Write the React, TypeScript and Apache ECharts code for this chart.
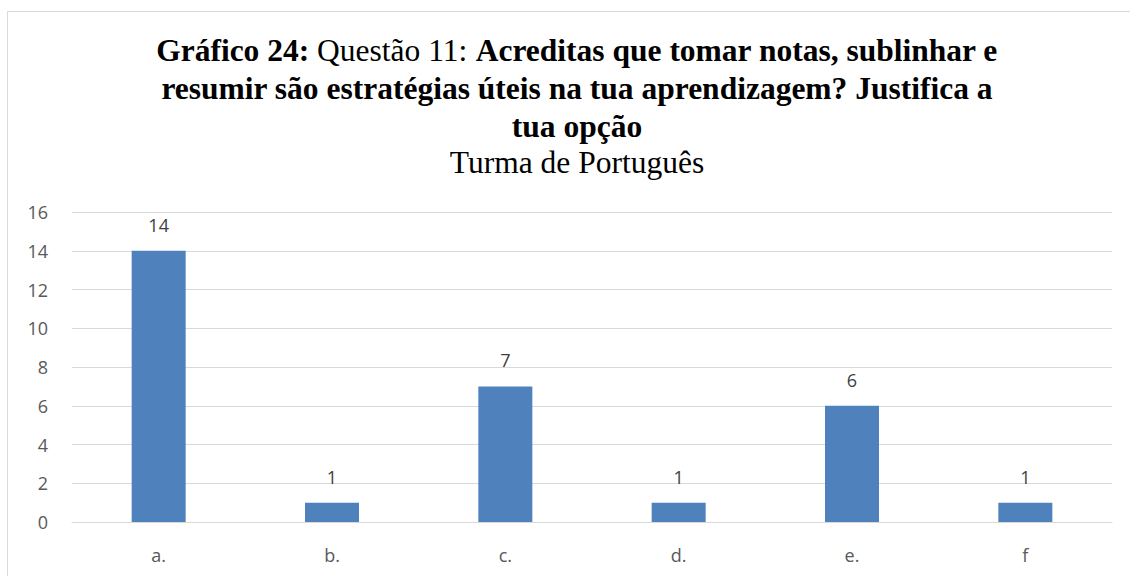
import React, { useEffect, useRef } from "react";
import * as echarts from "echarts";

const categories = ["a.", "b.", "c.", "d.", "e.", "f"];
const values = [14, 1, 7, 1, 6, 1];
const yTicks = { min: 0, max: 16, interval: 2 };
const titleLines = [
  "{b|Gráfico 24:} {n|Questão 11:} {b|Acreditas que tomar notas, sublinhar e}",
  "{b|resumir são estratégias úteis na tua aprendizagem? Justifica a}",
  "{b|tua opção}",
];
const subtitle = "Turma de Português";

export default function App() {
  const ref = useRef<HTMLDivElement>(null);
  useEffect(() => {
    if (!ref.current) return;
    const chart = echarts.init(ref.current, undefined, { renderer: "svg" });
    const serif = "Liberation Serif";
    const sans = "Open Sans";
    const fs = 31.5;
    const lh = 38;
    chart.setOption({
      animation: false,
      backgroundColor: "#ffffff",
      graphic: [
        {
          type: "rect",
          shape: { x: 7.5, y: 11.5, width: 1200, height: 700 },
          style: { fill: "none", stroke: "#d9d9d9", lineWidth: 1 },
          silent: true,
        },
      ],
      title: [
        {
          text: titleLines.join("\n"),
          left: 572,
          top: 26,
          textAlign: "center",
          textStyle: {
            fontFamily: serif,
            fontSize: fs,
            color: "#000",
            lineHeight: lh,
            rich: {
              b: { fontFamily: serif, fontSize: fs, fontWeight: "bold", color: "#000", lineHeight: lh },
              n: { fontFamily: serif, fontSize: fs, fontWeight: "normal", color: "#000", lineHeight: lh },
            },
          },
        },
        {
          text: subtitle,
          left: 572,
          top: 141,
          textAlign: "center",
          textStyle: {
            fontFamily: serif,
            fontSize: fs,
            fontWeight: "normal",
            color: "#000",
            lineHeight: 32,
          },
        },
      ],
      grid: { left: 72, right: 18, top: 212, bottom: 54, containLabel: false },
      xAxis: {
        type: "category",
        data: categories,
        axisLine: { show: true, lineStyle: { color: "#d9d9d9", width: 1 } },
        axisTick: { show: false },
        axisLabel: { color: "#595959", fontFamily: sans, fontSize: 18, margin: 24 },
      },
      yAxis: {
        type: "value",
        min: yTicks.min,
        max: yTicks.max,
        interval: yTicks.interval,
        axisLine: { show: false },
        axisTick: { show: false },
        splitLine: { lineStyle: { color: "#d9d9d9", width: 1 } },
        axisLabel: { color: "#595959", fontFamily: sans, fontSize: 18, margin: 24 },
      },
      series: [
        {
          type: "bar",
          data: values,
          barWidth: 54,
          itemStyle: { color: "#4f81bd" },
          label: {
            show: true,
            position: "top",
            distance: 17,
            color: "#404040",
            fontFamily: sans,
            fontSize: 18,
          },
        },
      ],
    });
    return () => chart.dispose();
  }, []);
  return (
    <div
      ref={ref}
      style={{ position: "absolute", left: 0, top: 0, width: 1130, height: 576 }}
    />
  );
}
